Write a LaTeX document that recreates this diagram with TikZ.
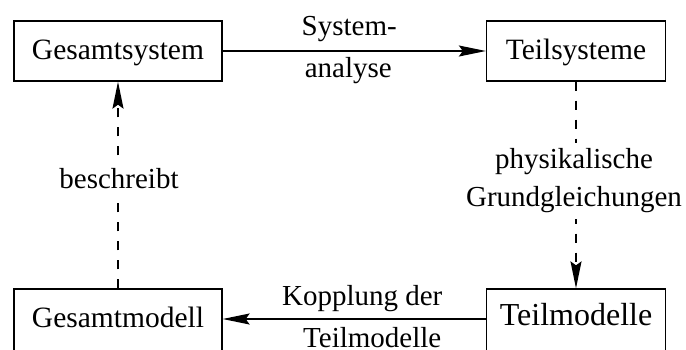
\documentclass[tikz,border=0pt]{standalone}
\usepackage{fontspec}
\setmainfont{Liberation Serif}
\usetikzlibrary{arrows.meta}
\begin{document}
\begin{tikzpicture}[x=1pt,y=-1pt,
  box/.style={draw, line width=1.3pt, minimum height=60pt, inner sep=0pt,
    text height=20pt, text depth=4pt, font=\fontsize{29.5}{34}\selectfont},
  lowbox/.style={box, minimum height=66pt, text height=16pt, text depth=6pt},
  lbl/.style={font=\fontsize{29}{38}\selectfont, inner sep=0pt, align=center},
  gaplbl/.style={lbl, fill=white, inner xsep=2pt, inner ysep=6pt},
  tip/.style={-{Stealth[length=27pt,width=11pt,inset=4pt]}},
  flow/.style={tip, line width=1.3pt},
  relation/.style={tip, line width=1.5pt, dash pattern=on 9pt off 10pt}]
  \useasboundingbox (0,0) rectangle (686,349);
  \clip (0,0) rectangle (686,349);

  % the four blocks
  \node[box, minimum width=208pt] (gsys) at (118,51) {Gesamtsystem};
  \node[box, minimum width=179pt] (tsys) at (576,51) {Teilsysteme};
  \node[lowbox, minimum width=208pt] (gmod) at (118,322) {Gesamtmodell};
  \node[lowbox, minimum width=179pt, text height=14pt, text depth=8pt,
        font=\fontsize{32}{36}\selectfont] (tmod) at (576,322) {Teilmodelle};

  % analysis: whole system -> subsystems
  \draw[flow] (gsys) --
    node[lbl, anchor=base, yshift=15.5pt, xshift=-5pt] {System-}
    node[lbl, anchor=base, yshift=-26.5pt, xshift=-6pt] {analyse} (tsys);

  % physical laws: subsystems -> submodels
  \draw[relation] (tsys) --
    node[gaplbl, yshift=4pt, xshift=-2pt] {physikalische\\Grundgleichungen} (tmod);

  % coupling: submodels -> overall model (arrow at the height of the text lines)
  \draw[flow] (tmod.west |- 0,319) --
    node[lbl, anchor=base, yshift=14pt, xshift=8pt] {Kopplung der}
    node[lbl, anchor=base, yshift=-28pt, xshift=18pt] {Teilmodelle} (gmod.east |- 0,319);

  % the overall model describes the overall system
  \draw[relation] (gmod) --
    node[gaplbl, yshift=6pt, xshift=1pt] {beschreibt} (gsys);
\end{tikzpicture}
\end{document}
